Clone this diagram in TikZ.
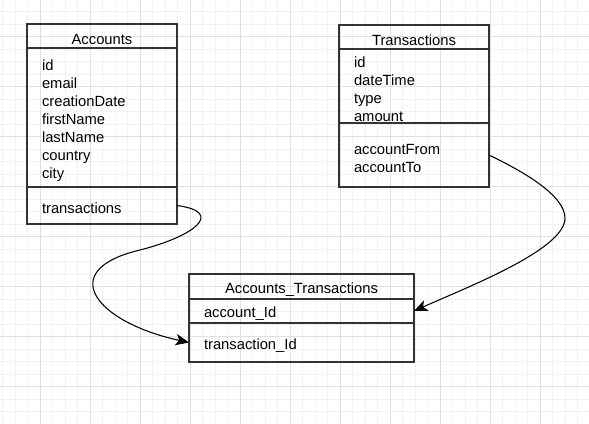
\documentclass[tikz,border=0pt]{standalone}
\usepackage{fontspec}
\setmainfont{Liberation Sans}
\usepackage{xcolor}
\usepackage{tikz}
\usetikzlibrary{positioning}
\usetikzlibrary{arrows.meta, calc}

\newcommand{\umlfont}{\fontsize{12.6}{15.4}\selectfont}

\tikzset{
    cls/.style={draw=black!80, line width=1.1pt, text width=3.6cm, inner xsep=0.45cm, inner ysep=0pt, outer sep=0pt, align=left, font=\umlfont,
        execute at begin node={\rule{0pt}{14pt}}},
    clswide/.style={cls, text width=5.85cm},
    conn/.style={-{Stealth[length=0.4cm, width=0.34cm, inset=0.1cm]}, line width=0.9pt, black},
    gridmajor/.style={black!12, line width=0.5pt},
    gridminor/.style={black!5, line width=0.5pt}
}

\begin{document}
\begin{tikzpicture}[x=0.03cm, y=-0.03cm]
        \useasboundingbox (0,0) rectangle (589,424);
        \fill[white] (0,0) rectangle (589,424);
        \foreach \gx in {2.5,15,...,589} \draw[gridminor] (\gx,0) -- (\gx,424);
        \foreach \gy in {11.7,24.2,...,424} \draw[gridminor] (0,\gy) -- (589,\gy);
        \foreach \gx in {40,90,...,589} \draw[gridmajor] (\gx,0) -- (\gx,424);
        \foreach \gy in {36.7,86.7,...,424} \draw[gridmajor] (0,\gy) -- (589,\gy);

        \node[cls, align=center, minimum height=0.72cm, anchor=north west] (acc-title) at (27,24) {Accounts};
        \node[cls, minimum height=4.17cm, below=0pt of acc-title] (acc-fields) {
            id\\ email\\ creationDate\\ firstName\\ lastName\\ country\\ city
        };
        \node[cls, minimum height=1.11cm, below=0pt of acc-fields] (acc-links) {transactions};

        \node[cls, align=center, minimum height=0.72cm, anchor=north west] (tr-title) at (339,25) {Transactions};
        \node[cls, minimum height=2.22cm, below=0pt of tr-title] (tr-fields) {
            id\\ dateTime\\ type\\ amount
        };
        \node[cls, minimum height=1.92cm, below=0pt of tr-fields] (tr-links) {
            accountFrom\\ accountTo
        };

        \node[clswide, align=center, minimum height=0.75cm, anchor=north west] (at-title) at (189,274) {Accounts\_Transactions};
        \node[clswide, minimum height=0.72cm, below=0pt of at-title] (at-acc) {account\_Id};
        \node[clswide, minimum height=1.17cm, below=0pt of at-acc] (at-tr) {transaction\_Id};

        \draw[conn] (acc-links.east) .. controls (225,212) and (195,236) .. (140,250)
            .. controls (55,270) and (95,322) .. (at-tr.west);
        \draw[conn] (tr-links.east) .. controls (520,170) and (566,195) .. (565,219)
            .. controls (563,250) and (470,286) .. (at-acc.east);
    \end{tikzpicture}
\end{document}
